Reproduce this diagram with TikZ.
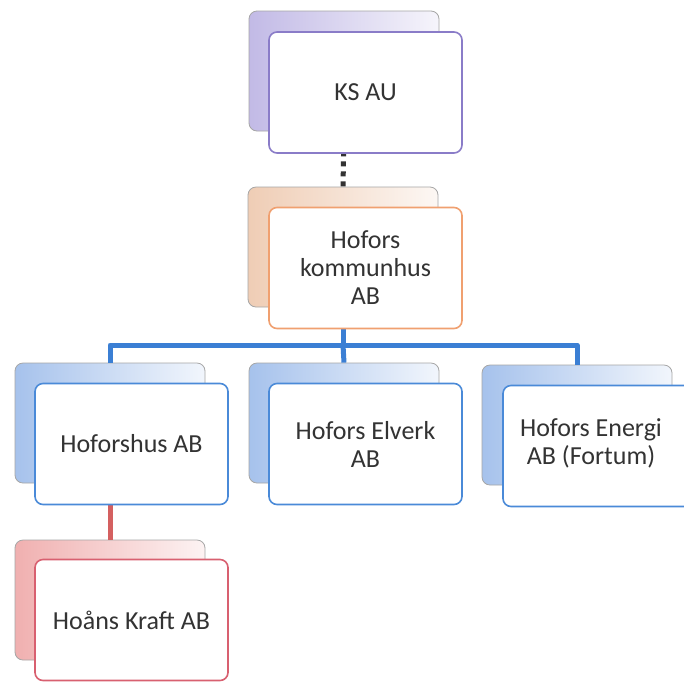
\documentclass[tikz,border=0pt]{standalone}
\usepackage{fontspec}
\setmainfont{Carlito}
\definecolor{txt}{HTML}{333333}
\definecolor{purB}{HTML}{8A7CC8}
\definecolor{purF}{HTML}{C2BAE6}
\definecolor{oraB}{HTML}{F0A070}
\definecolor{oraF}{HTML}{EFCDB5}
\definecolor{bluB}{HTML}{4A8AD8}
\definecolor{bluF}{HTML}{A6C2EC}
\definecolor{redB}{HTML}{D86070}
\definecolor{redF}{HTML}{F0B0B0}
\definecolor{bluL}{HTML}{3B7FD4}
\definecolor{redL}{HTML}{D46060}
\definecolor{dotL}{HTML}{333333}
\tikzset{
  backbox/.style={draw=gray!70, line width=0.8pt, rounded corners=8pt, inner sep=0pt,
    minimum width=190pt, minimum height=120pt, shading=axis, shading angle=60},
  frontbox/.style={draw=#1, line width=1.6pt, rounded corners=8pt, fill=white, inner sep=0pt,
    minimum width=193pt, minimum height=121pt, font=\fontsize{26}{28}\selectfont,
    text=txt, align=center},
  conn/.style={line width=5pt},
}
\begin{document}
\begin{tikzpicture}[x=1pt,y=-1pt]
\clip (0,0) rectangle (684,681);
\fill[white] (0,0) rectangle (684,681);
% back boxes
\node[backbox, left color=purF, right color=purF!15] (ksb) at (344,71) {};
\node[backbox, left color=oraF, right color=oraF!15] (hkb) at (343,247) {};
\node[backbox, left color=bluF, right color=bluF!15] (hhb) at (110,423) {};
\node[backbox, left color=bluF, right color=bluF!15] (heb) at (344,423) {};
\node[backbox, left color=bluF, right color=bluF!15] (hfb) at (577,425) {};
\node[backbox, left color=redF, right color=redF!15] (hob) at (110,600) {};
% connectors
\draw[conn, dotL, dash pattern=on 5pt off 5pt] (ksb.south) -- (hkb.north);
\coordinate (bus) at (343,345);
\draw[conn, bluL] (hkb.south) -- (bus);
\draw[conn, bluL, line join=round] (hhb.north) |- (bus) -| (hfb.north);
\draw[conn, bluL] (bus) -- (heb.north);
\draw[conn, redL] (hhb.south) -- (hob.north);
% front boxes
\node[frontbox=purB] (ks) at (365.5,92.5) {KS AU};
\node[frontbox=oraB] (hk) at (365.5,268) {Hofors\\kommunhus\\AB};
\node[frontbox=bluB] (hh) at (131.5,444) {Hoforshus AB};
\node[frontbox=bluB] (he) at (365.5,444) {Hofors Elverk\\AB};
\node[frontbox=bluB] (hf) at (599.5,446) {};
\node[font=\fontsize{26}{28}\selectfont, text=txt, align=center] (hft) at (591,443) {Hofors Energi\\AB (Fortum)};
\node[frontbox=redB] (ho) at (131.5,620) {Hoåns Kraft AB};
\end{tikzpicture}
\end{document}
